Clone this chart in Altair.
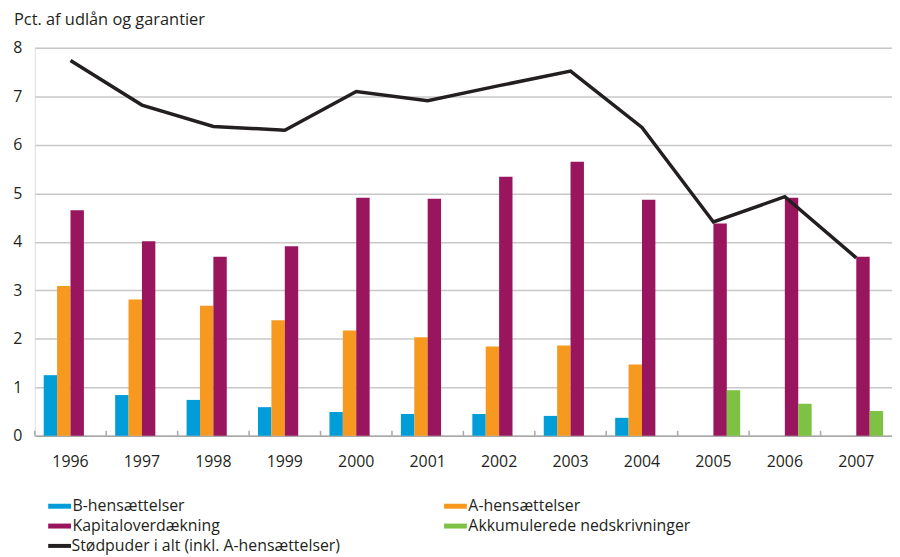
import altair as alt
import pandas as pd

# ---- data ----
years = [str(y) for y in range(1996, 2008)]
b_hens = [1.25, 0.84, 0.74, 0.59, 0.49, 0.45, 0.45, 0.41, 0.37, None, None, None]
a_hens = [3.09, 2.81, 2.68, 2.38, 2.17, 2.03, 1.84, 1.86, 1.47, None, None, None]
kapital = [4.65, 4.01, 3.69, 3.91, 4.91, 4.89, 5.34, 5.65, 4.87, 4.38, 4.91, 3.69]
akkum = [None, None, None, None, None, None, None, None, None, 0.94, 0.66, 0.51]
stodpuder = [7.74, 6.82, 6.38, 6.30, 7.10, 6.91, 7.22, 7.52, 6.36, 4.41, 4.93, 3.67]

series_names = ["B-hensættelser", "A-hensættelser", "Kapitaloverdækning",
                "Akkumulerede nedskrivninger"]
series_colors = ["#009dd9", "#f7981f", "#99155d", "#7dc242"]
line_name = "Stødpuder i alt (inkl. A-hensættelser)"
y_ticks = [0, 1, 2, 3, 4, 5, 6, 7, 8]
title_text = "Pct. af udlån og garantier"

# ---- tables ----
rows = []
for name, vals in zip(series_names, [b_hens, a_hens, kapital, akkum]):
    for yr, v in zip(years, vals):
        if v is not None:
            rows.append({"year": yr, "serie": name, "value": v})
bars_df = pd.DataFrame(rows)
line_df = pd.DataFrame({"year": years, "value": stodpuder, "serie": [line_name] * len(years)})
tick_df = pd.DataFrame({"year": years})

W, H = 864, 391
FONT = "Open Sans"
TXT = "#231f20"
P_IN = 0.25
STEP = W / (len(years) - P_IN + 2 * 0.125)

x_scale = alt.Scale(domain=years, paddingInner=P_IN, paddingOuter=0.125)
y_scale = alt.Scale(domain=[0, 8])

x_axis = alt.Axis(title=None, labelAngle=0, ticks=False, labelPadding=18,
                  domainColor="#a8a8a8", domainWidth=1.5, labelFontSize=16,
                  labelColor=TXT, grid=False, labelFont=FONT)
y_axis = alt.Axis(title=None, values=y_ticks, grid=True, gridColor="#c8c8c8",
                  gridWidth=1.5, ticks=False, domain=False, labelPadding=13,
                  labelFontSize=16, labelColor=TXT, labelFont=FONT)

# small axis ticks at the boundaries between year groups, pointing up
ticks = alt.Chart(tick_df).mark_rule(color="#a8a8a8", strokeWidth=1.5,
                                     xOffset=-STEP * P_IN / 2).encode(
    x=alt.X("year:N", scale=x_scale, bandPosition=0, axis=x_axis),
    y=alt.value(H),
    y2=alt.value(H - 5),
)

bars = alt.Chart(bars_df).mark_bar().encode(
    x=alt.X("year:N", scale=x_scale, axis=x_axis),
    xOffset=alt.XOffset("serie:N", scale=alt.Scale(domain=series_names,
                                                   paddingInner=0, paddingOuter=0)),
    y=alt.Y("value:Q", scale=y_scale, axis=y_axis),
    color=alt.Color("serie:N", scale=alt.Scale(domain=series_names, range=series_colors),
                    legend=alt.Legend(title=None, orient="none", legendX=17, legendY=454,
                                      direction="horizontal",
                                      columns=2, columnPadding=225, rowPadding=4,
                                      symbolType="M-2.3,-0.5H2.3V0.5H-2.3Z",
                                      symbolSize=100, symbolStrokeWidth=0,
                                      symbolOpacity=1,
                                      labelFontSize=16, labelFont=FONT,
                                      labelColor=TXT, labelOffset=5, padding=0,
                                      labelLimit=400)),
)

line = alt.Chart(line_df).mark_line(strokeWidth=3.5).encode(
    x=alt.X("year:N", scale=x_scale),
    y=alt.Y("value:Q", scale=y_scale),
    color=alt.Color("serie:N", scale=alt.Scale(domain=[line_name], range=[TXT]),
                    legend=alt.Legend(title=None, orient="none", legendX=17, legendY=494,
                                      symbolType="M-2.3,0H2.3", symbolSize=100,
                                      symbolStrokeWidth=4,
                                      labelFontSize=16, labelFont=FONT,
                                      labelColor=TXT, labelOffset=4, padding=0,
                                      labelLimit=400)),
)

chart = alt.layer(ticks, bars, line).resolve_scale(color="independent").properties(
    width=W, height=H,
    autosize=alt.AutoSizeParams(type="none"),
    padding={"left": 27, "top": 38, "right": 0, "bottom": 118},
    title=alt.TitleParams(title_text, anchor="start", frame="group", dx=-21, offset=12,
                          fontSize=16.5, fontWeight="normal", font=FONT, color=TXT),
).configure_view(stroke=None).configure(font=FONT)

chart.save("out.html", embed_options={"renderer": "svg", "actions": False})
